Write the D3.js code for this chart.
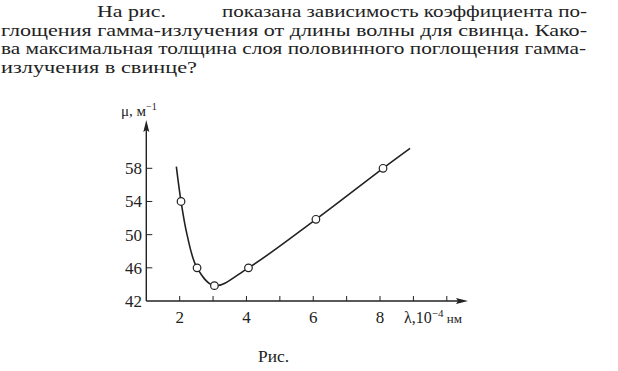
<!DOCTYPE html>
<html><head><meta charset="utf-8">
<script src="https://cdn.jsdelivr.net/npm/d3@7"></script>
<style>body{margin:0;background:#fff}svg{display:block}</style>
</head><body>
<script>
// data
const curveX = [1.9, 2.04, 2.22, 2.52, 3.04, 4.06, 6.08, 8.09, 8.9];
const curveY = [58.2, 54, 50, 46, 43.85, 46, 51.85, 58.0, 60.4];
const pointX = [2.04, 2.52, 3.04, 4.06, 6.08, 8.09];
const pointY = [54, 46, 43.85, 46, 51.85, 58.0];
const xTicks = [2,3,4,5,6,7,8,9,10];
const xTickLabels = [2,4,6,8];
const yTicks = [42,46,50,54,58];
const textLines = [
  "На рис.",
  "показана зависимость коэффициента по-",
  "глощения гамма-излучения от длины волны для свинца. Како-",
  "ва максимальная толщина слоя половинного поглощения гамма-",
  "излучения в свинце?"
];

const FONT='"Liberation Serif", "Times New Roman", Tinos, "DejaVu Serif", serif';
const W=618,H=371;
const svg=d3.select("body").append("svg").attr("width",W).attr("height",H)
  .attr("font-family",FONT).style("font-family",FONT);
const ink="#222";

// paragraph
const para=[
  {t:textLines[0],x:97,y:17,w:69},
  {t:textLines[1],x:222,y:17,w:365},
  {t:textLines[2],x:1,y:35.5,w:586},
  {t:textLines[3],x:1,y:54,w:585},
  {t:textLines[4],x:1,y:72.5,w:196}
];
svg.selectAll("text.p").data(para).join("text").attr("class","p")
  .attr("x",d=>d.x).attr("y",d=>d.y).attr("font-size",16.5).attr("fill",ink)
  .attr("font-family",FONT)
  .attr("textLength",d=>d.w).attr("lengthAdjust","spacingAndGlyphs")
  .text(d=>d.t);

const x=d3.scaleLinear().domain([1,10]).range([146.3,446.8]);
const y=d3.scaleLinear().domain([42,58]).range([301,168.3]);
const ox=x(1), oy=y(42);

const g=svg.append("g").attr("font-family",FONT).attr("fill",ink);
// axes lines
g.append("line").attr("x1",ox).attr("y1",oy).attr("x2",463).attr("y2",oy).attr("stroke",ink).attr("stroke-width",1.4);
g.append("line").attr("x1",ox).attr("y1",oy).attr("x2",ox).attr("y2",126).attr("stroke",ink).attr("stroke-width",1.4);
// arrows
g.append("path").attr("d",`M468,${oy} L456,${oy-3} L458,${oy} L456,${oy+3} Z`).attr("fill",ink);
g.append("path").attr("d",`M${ox},120 L${ox-3},132 L${ox},130 L${ox+3},132 Z`).attr("fill",ink);

// x ticks (inward, upward)
g.selectAll("line.xt").data(xTicks).join("line").attr("class","xt")
  .attr("x1",d=>x(d)).attr("x2",d=>x(d)).attr("y1",oy).attr("y2",oy-5)
  .attr("stroke",ink).attr("stroke-width",1);
g.selectAll("text.xl").data(xTickLabels).join("text").attr("class","xl")
  .attr("x",d=>x(d)).attr("y",323).attr("text-anchor","middle").attr("font-size",17)
  .text(d=>d);
// y ticks (inward, right)
g.selectAll("line.yt").data(yTicks.slice(1)).join("line").attr("class","yt")
  .attr("x1",ox).attr("x2",ox+6).attr("y1",d=>y(d)).attr("y2",d=>y(d))
  .attr("stroke",ink).attr("stroke-width",1);
g.selectAll("text.yl").data(yTicks).join("text").attr("class","yl")
  .attr("x",142).attr("y",d=>y(d)+6).attr("text-anchor","end").attr("font-size",17)
  .text(d=>d);

// axis labels
const xl=g.append("text").attr("x",404).attr("y",323).attr("font-size",16);
xl.append("tspan").text("λ,10");
xl.append("tspan").attr("dy",-6).attr("font-size",11).text("−4");
xl.append("tspan").attr("dy",6).attr("font-size",13).text(" нм");
const yl=g.append("text").attr("x",121).attr("y",116).attr("font-size",15);
yl.append("tspan").text("μ, м");
yl.append("tspan").attr("dy",-6).attr("font-size",10).text("−1");

// curve
const pts=curveX.map((v,i)=>[v,curveY[i]]);
const line=d3.line().x(d=>x(d[0])).y(d=>y(d[1])).curve(d3.curveCatmullRom.alpha(0.5));
g.append("path").attr("d",line(pts)).attr("fill","none").attr("stroke",ink).attr("stroke-width",1.6);

// markers
g.selectAll("circle").data(pointX.map((v,i)=>[v,pointY[i]])).join("circle")
  .attr("cx",d=>x(d[0])).attr("cy",d=>y(d[1])).attr("r",3.8)
  .attr("fill","#fff").attr("stroke",ink).attr("stroke-width",1.2);

// caption
svg.append("text").attr("x",258).attr("y",362).attr("font-size",16).attr("fill",ink)
  .attr("font-family",FONT)
  .attr("textLength",31).attr("lengthAdjust","spacingAndGlyphs").text("Рис.");
</script>
</body></html>
